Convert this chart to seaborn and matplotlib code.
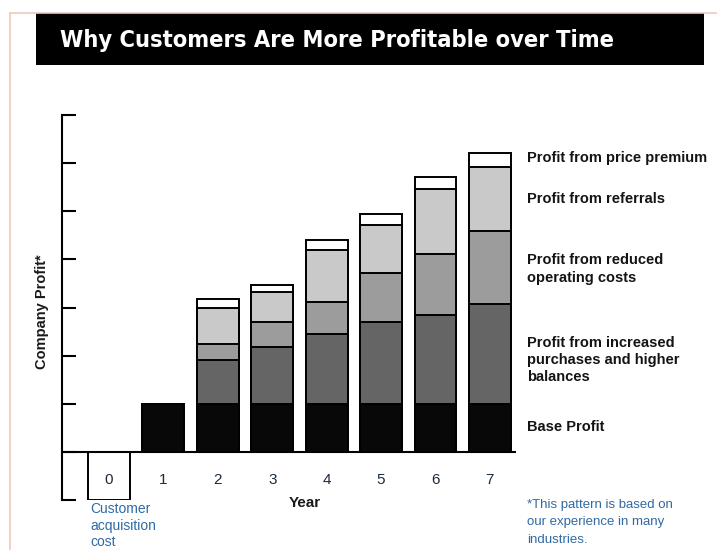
import matplotlib
matplotlib.use("Agg")
import matplotlib.pyplot as plt
import matplotlib.patches as mpatches
from matplotlib import font_manager
import seaborn as sns
import pandas as pd
import numpy as np

# ---- data (units = tick spacing) ----
years = ["0", "1", "2", "3", "4", "5", "6", "7"]
acquisition_cost = [-1.0, 0, 0, 0, 0, 0, 0, 0]
base_profit = [0, 1.0, 1.0, 1.0, 1.0, 1.0, 1.0, 1.0]
increased_purchases = [0, 0, 0.90, 1.17, 1.45, 1.70, 1.84, 2.07]
reduced_costs = [0, 0, 0.35, 0.53, 0.67, 1.02, 1.28, 1.52]
referrals = [0, 0, 0.74, 0.62, 1.08, 0.99, 1.35, 1.33]
price_premium = [0, 0, 0.19, 0.15, 0.21, 0.23, 0.25, 0.30]

layer_names = ["Base Profit",
               "Profit from increased\npurchases and higher\nbalances",
               "Profit from reduced\noperating costs",
               "Profit from referrals",
               "Profit from price premium"]
layer_colors = ["#080808", "#656565", "#9c9c9c", "#c9c9c9", "#ffffff"]

FONT = ["Liberation Sans", "DejaVu Sans"]

sns.set_theme(style="white")
plt.rcParams["font.family"] = FONT


def find_condensed_bold():
    cands = []
    for f in font_manager.fontManager.ttflist:
        name = f.name.lower()
        fn = f.fname.lower()
        narrow = ("narrow" in name or "condensed" in name or "narrow" in fn
                  or "condensed" in fn or str(f.stretch) in ("condensed", "semi-condensed"))
        bold = (str(f.weight) in ("bold", "700", "600", "semibold", "demibold")
                or "bold" in fn)
        if narrow and bold and "italic" not in fn and "oblique" not in fn:
            cands.append(f.fname)
    pref = ["liberationsansnarrow", "dejavusanscondensed", "robotocondensed", "opensans"]
    for p in pref:
        for c in cands:
            if p in c.lower().replace("-", "").replace("_", ""):
                return c
    return cands[0] if cands else None


W, H = 717, 550
fig = plt.figure(figsize=(W / 100, H / 100), dpi=100)


def fx(px):
    return px / W


def fy(py):
    return 1 - py / H


ax_left, ax_right, ax_top, ax_bot = 62, 516, 115, 500
ax = fig.add_axes([fx(ax_left), fy(ax_bot), fx(ax_right - ax_left), (ax_bot - ax_top) / H])

df = pd.DataFrame({
    "year": years,
    "acq": acquisition_cost,
    "base": base_profit,
    "inc": increased_purchases,
    "red": reduced_costs,
    "ref": referrals,
    "pp": price_premium,
})
layers = ["base", "inc", "red", "ref", "pp"]
cum = df[layers].cumsum(axis=1)

bw = 0.77
sns.barplot(data=df, x="year", y="acq", order=years, color="white",
            saturation=1, edgecolor="black", linewidth=1.4, width=bw, ax=ax)
for i in range(len(layers) - 1, -1, -1):
    tmp = pd.DataFrame({"year": years, "val": cum[layers[i]].values})
    sns.barplot(data=tmp, x="year", y="val", order=years, color=layer_colors[i],
                saturation=1, edgecolor="black", linewidth=1.4, width=bw, ax=ax)

ax.set_ylim(-1, 7)
ax.set_xlim(-0.864, 7.48)
ax.axhline(0, color="black", lw=1.5, zorder=5)

for s in ["top", "right", "bottom"]:
    ax.spines[s].set_visible(False)
ax.spines["left"].set_color("black")
ax.spines["left"].set_linewidth(1.5)
ax.set_yticks(range(-1, 8))
ax.set_yticklabels([])
ax.tick_params(axis="y", direction="in", length=10, width=1.5, color="black", left=True)
ax.set_xticks([])
ax.set_xlabel("")
ax.set_ylabel("")

for i, y in enumerate(years):
    ax.text(i, -0.58, y, ha="center", va="center", fontsize=11, color="#1c2a3c")

fig.text(fx(305), fy(503), "Year", ha="center", va="center", fontsize=11,
         fontweight="bold", color="#1a1a1a")
fig.text(fx(42), fy(312), "Company Profit*", rotation=90, ha="center", va="center",
         fontsize=10.5, fontweight="bold", color="#1a1a1a")

label_y = [427, 360, 269, 199, 158]
for name, yy in zip(layer_names, label_y):
    fig.text(fx(527), fy(yy), name, ha="left", va="center", fontsize=10.5,
             fontweight="bold", color="#141414", linespacing=1.3)

fig.text(fx(527), fy(499), "*This pattern is based on\nour experience in many\nindustries.",
         ha="left", va="top", fontsize=9.5, color="#2f6aa3", linespacing=1.6)
fig.text(fx(90), fy(502), "Customer\nacquisition\ncost", ha="left", va="top",
         fontsize=10, color="#2f6aa3", linespacing=1.25)

# frame and title banner
fig.add_artist(plt.Line2D([fx(10), fx(10)], [fy(13), 0], color="#f0c8bc", lw=1.2))
fig.add_artist(plt.Line2D([fx(10), 1], [fy(13), fy(13)], color="#f0c8bc", lw=1.2))
fig.add_artist(mpatches.Rectangle((fx(36), fy(65)), fx(704 - 36), (65 - 13) / H,
                                  transform=fig.transFigure, facecolor="black",
                                  edgecolor="none"))

cond = find_condensed_bold()
if cond:
    tprops = font_manager.FontProperties(fname=cond, size=26)
else:
    tprops = font_manager.FontProperties(family=FONT, weight="bold", size=26)
title = fig.text(fx(60), fy(40), "Why Customers Are More Profitable over Time", ha="left",
                 va="center", color="white", fontproperties=tprops)
renderer = fig.canvas.get_renderer()
w = title.get_window_extent(renderer).width
target = 553
size = tprops.get_size() * target / w
size = min(size, 26)
title.set_fontsize(size)

fig.savefig("out.png", dpi=100)
